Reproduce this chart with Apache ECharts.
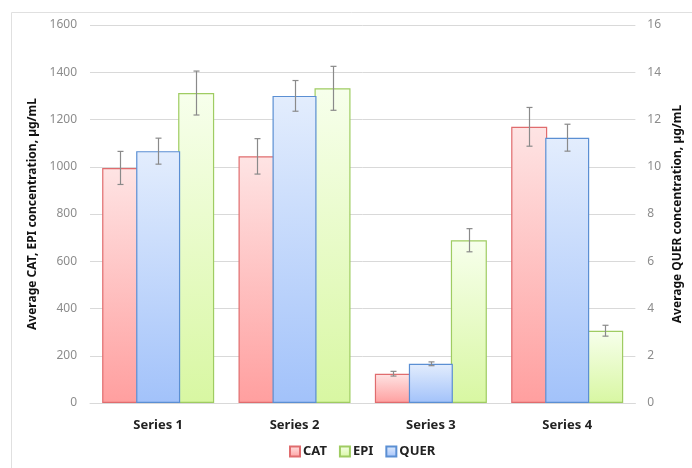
<!DOCTYPE html>
<html>
<head>
<meta charset="utf-8">
<script src="https://cdn.jsdelivr.net/npm/echarts@6/dist/echarts.min.js"></script>
<style>html,body{margin:0;padding:0;background:#fff}#c{width:692px;height:468px}</style>
</head>
<body>
<div id="c"></div>
<script>
var categories = ['Series 1', 'Series 2', 'Series 3', 'Series 4'];
var catValues = [995, 1044, 124, 1169];
var catErr = [70, 75, 10, 82];
var epiValues = [1312, 1332, 689, 306];
var epiErr = [93, 93, 49, 23];
var querValues = [10.66, 13.0, 1.66, 11.23];
var querErr = [0.55, 0.65, 0.08, 0.57];
var leftTicks = [0, 200, 400, 600, 800, 1000, 1200, 1400, 1600];
var rightTicks = [0, 2, 4, 6, 8, 10, 12, 14, 16];

var FONT = '"Noto Sans", "Open Sans", sans-serif';
var BW = 36, GAP = 40, QW = 44;
var off = (BW + GAP) / 2;

function grad(top, bottom) {
  return new echarts.graphic.LinearGradient(0, 0, 0, 1, [
    {offset: 0, color: top}, {offset: 1, color: bottom}
  ]);
}
var catStyle = {color: grad('#fee4e4', '#ff9f9f'), borderColor: '#e06c6e', borderWidth: 1.2};
var epiStyle = {color: grad('#f7ffec', '#d8f7a2'), borderColor: '#9fcc62', borderWidth: 1.2};
var querStyle = {color: grad('#e3edfd', '#a2c2fa'), borderColor: '#5b8fd3', borderWidth: 1.2};

function errData(vals, errs) {
  return vals.map(function (v, i) { return [i, v - errs[i], v + errs[i]]; });
}
function errSeries(vals, errs, xi, yi, dx) {
  return {
    type: 'custom', xAxisIndex: xi, yAxisIndex: yi, z: 10, silent: true,
    data: errData(vals, errs),
    renderItem: function (params, api) {
      var i = api.value(0);
      var hi = api.coord([i, api.value(2)]);
      var lo = api.coord([i, api.value(1)]);
      var x = Math.round(hi[0] + dx) + 0.5;
      var st = {stroke: '#8a8a8a', lineWidth: 1.2};
      return {type: 'group', children: [
        {type: 'line', shape: {x1: x, y1: hi[1], x2: x, y2: lo[1]}, style: st},
        {type: 'line', shape: {x1: x - 3, y1: hi[1], x2: x + 3, y2: hi[1]}, style: st},
        {type: 'line', shape: {x1: x - 3, y1: lo[1], x2: x + 3, y2: lo[1]}, style: st}
      ]};
    }
  };
}

var chart = echarts.init(document.getElementById('c'), null, {renderer: 'canvas'});
chart.setOption({
  animation: false,
  backgroundColor: '#fff',
  textStyle: {fontFamily: FONT},
  graphic: [
    {type: 'line', shape: {x1: 11.5, y1: 12.5, x2: 692, y2: 12.5}, style: {stroke: '#e0e0e0', lineWidth: 1}},
    {type: 'line', shape: {x1: 11.5, y1: 12.5, x2: 11.5, y2: 468}, style: {stroke: '#e0e0e0', lineWidth: 1}}
  ],
  grid: {left: 90, right: 52, top: 25, bottom: 65},
  legend: {
    data: ['CAT', 'EPI', 'QUER'],
    left: 284, top: 440,
    itemWidth: 10, itemHeight: 10, itemGap: 12, icon: 'rect',
    textStyle: {fontFamily: FONT, fontSize: 13, fontWeight: 'bold', color: '#222', padding: [0, 0, 0, -2]}
  },
  xAxis: [
    {type: 'category', data: categories, axisTick: {show: false},
     axisLine: {lineStyle: {color: '#d9d9d9', width: 1}},
     axisLabel: {fontFamily: FONT, fontSize: 13, fontWeight: 'bold', color: '#222', margin: 16}},
    {type: 'category', data: categories, show: false}
  ],
  yAxis: [
    {type: 'value', min: 0, max: 1600, interval: 200, position: 'left',
     name: 'Average CAT, EPI concentration, µg/mL', nameLocation: 'middle', nameGap: 47, nameRotate: 90,
     nameTextStyle: {fontFamily: FONT, fontSize: 12, fontWeight: 'bold', color: '#111'},
     axisLine: {show: false}, axisTick: {show: false},
     axisLabel: {fontFamily: FONT, fontSize: 12, color: '#8c8c8c', margin: 13,
       formatter: function (v) { return String(v); }},
     splitLine: {lineStyle: {color: '#d9d9d9', width: 1}}},
    {type: 'value', min: 0, max: 16, interval: 2, position: 'right',
     name: 'Average QUER concentration, µg/mL', nameLocation: 'middle', nameGap: 36, nameRotate: 90,
     nameTextStyle: {fontFamily: FONT, fontSize: 12, fontWeight: 'bold', color: '#111'},
     axisLine: {show: false}, axisTick: {show: false},
     axisLabel: {fontFamily: FONT, fontSize: 12, color: '#8c8c8c', margin: 12,
       formatter: function (v) { return String(v); }},
     splitLine: {show: false}}
  ],
  series: [
    {name: 'CAT', type: 'bar', xAxisIndex: 0, yAxisIndex: 0, data: catValues,
     barWidth: BW, barGap: (GAP / BW * 100) + '%', itemStyle: catStyle, z: 2},
    {name: 'EPI', type: 'bar', xAxisIndex: 0, yAxisIndex: 0, data: epiValues,
     barWidth: BW, barGap: (GAP / BW * 100) + '%', itemStyle: epiStyle, z: 2},
    {name: 'QUER', type: 'bar', xAxisIndex: 1, yAxisIndex: 1, data: querValues,
     barWidth: QW, itemStyle: querStyle, z: 3},
    errSeries(catValues, catErr, 0, 0, -off),
    errSeries(epiValues, epiErr, 0, 0, off),
    errSeries(querValues, querErr, 1, 1, 0)
  ]
});
</script>
</body>
</html>
